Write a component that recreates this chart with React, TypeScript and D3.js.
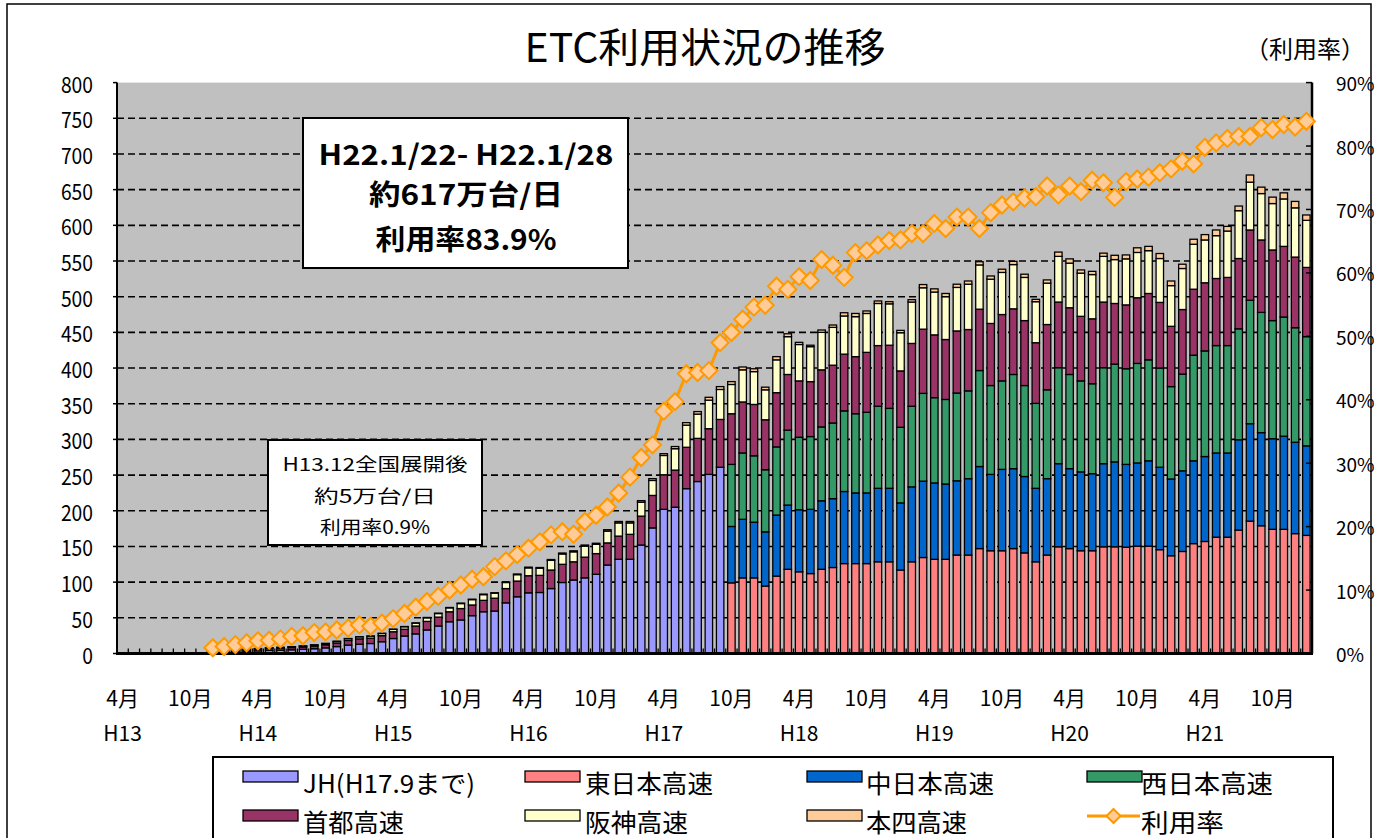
import * as d3 from "d3";

// fiscal years (Heisei) and months shown on the category axis
const fiscalYears = ["H13", "H14", "H15", "H16", "H17", "H18", "H19", "H20", "H21"];
const months = [4, 5, 6, 7, 8, 9, 10, 11, 12, 1, 2, 3];
const categories = fiscalYears
  .flatMap((fy) => months.map((m) => `${fy}.${m}`))
  .slice(0, 106); // H13.4 .. H21.1(=H22.1)
const firstData = "H13.12";
const splitData = "H17.10"; // JH split into 3 companies from here

// 万台/日, from H13.12 to H17.9
const jh = [2.5, 2.8, 3.1, 3.4, 3.7, 4.3, 4.6, 5.2, 5.8, 6.7, 7.9, 9.7, 11.8, 13, 14, 16.5, 21, 24.5, 27.5, 33, 38.5, 44.5, 47, 53, 58.5, 59.5, 71, 79.5, 85, 85.5, 91, 99.5, 103, 106, 111, 124, 132, 132, 152, 176, 202, 205, 231, 241, 251, 261];
// from H17.10 to H22.1
const east = [99, 106, 106, 94.5, 108.5, 118, 114.5, 112, 118, 120.5, 126, 126, 126, 128.5, 128.5, 117, 128.5, 134.5, 132, 132, 138, 138, 147, 144, 144, 147, 141, 128.5, 138, 149.5, 147, 144, 144, 149.5, 149.5, 149, 150.5, 150.5, 145.5, 137, 143, 154, 157, 163, 163, 173, 185.5, 179, 174, 174, 168, 165.5];
const central = [79, 82, 78, 76, 85.5, 90, 87, 90, 96, 96.5, 101, 99, 99, 103, 103, 94, 105, 107, 107, 105.5, 104, 107, 115, 107, 114, 112, 107, 103, 107, 116.5, 112, 110.5, 108, 116.5, 119, 116, 116.5, 119.5, 115.5, 107.5, 113, 116, 119, 118, 118, 126.5, 136.5, 130.5, 127, 130.5, 128, 125.5];
const west = [87, 93, 93, 87, 95.5, 105, 101.5, 102, 103.5, 106, 113, 111, 113, 115, 112, 106, 113, 123, 119.5, 118.5, 123, 123, 134.5, 124.5, 124, 132, 127.5, 119, 124.5, 134.5, 132, 127.5, 126, 134.5, 137, 134, 139.5, 141.5, 139, 129.5, 135.5, 148, 148, 150.5, 150.5, 155.5, 173, 168.5, 165.5, 167, 160.5, 153];
// from H13.12 to H22.1
const shuto = [2, 2.1, 2.2, 2.3, 2.4, 2.7, 2.8, 3.1, 3.4, 3.8, 4.3, 5.1, 6.5, 7.5, 7.5, 8.5, 9.5, 9.5, 11, 12, 12.5, 14, 16, 15, 16, 18, 20, 22, 24, 24, 26, 25.5, 25.5, 29, 29, 31, 32.5, 35, 40.5, 45.5, 48.5, 52, 58, 60.5, 64, 67,
  71, 71.5, 72, 70, 76, 78, 79, 77, 80, 81, 79.5, 80, 84, 85, 88.5, 79, 88, 90, 88, 84, 87, 86, 86, 87, 93, 92, 91, 85, 91.5, 92, 93.5, 90.5, 91, 92, 85, 89.5, 92, 93, 92, 84.5, 90.5, 92.5, 95.5, 94, 95.5, 98.5, 98.5, 101.5, 99, 99, 99, 97];
const hanshin = [0.5, 0.6, 0.7, 0.8, 0.9, 1.0, 1.1, 1.2, 1.3, 1.5, 1.8, 2.2, 2.5, 2.8, 2.8, 3, 3.3, 3.5, 4, 5, 5, 5.5, 7, 7.5, 8, 7, 8.5, 9, 11, 10, 13.5, 14.5, 14, 15.5, 13, 16.5, 18.5, 16, 19.5, 21, 27, 30, 31, 34, 40, 42,
  41, 45, 46, 42, 46, 53, 51, 49, 52.5, 53, 53.5, 56, 54.5, 59, 58, 53.5, 58, 58, 60, 60, 61, 63.5, 62, 62, 59, 62, 60.5, 57.5, 58, 64, 62.5, 60.5, 62, 64, 61.5, 64.5, 63.5, 60, 61.5, 57, 57.5, 63, 60, 60, 65, 67, 67, 65, 65, 66.5, 69, 66];
const honshi = [0, 0, 0, 0, 0, 0.1, 0.1, 0.1, 0.1, 0.1, 0.1, 0.1, 0.2, 0.2, 0.2, 0.3, 0.3, 0.3, 0.4, 0.5, 0.5, 0.5, 0.6, 0.6, 0.7, 0.7, 0.8, 0.9, 1, 1, 1.2, 1.3, 1.4, 1.5, 1.5, 2, 2, 2, 2.2, 2.5, 2.5, 3, 3.5, 3.5, 4, 4,
  4, 4, 4, 3.7, 4.5, 4, 3, 2, 3.3, 3.3, 4.5, 4.5, 3.5, 3.5, 3, 3.3, 3.3, 4.5, 4.5, 4.5, 4.5, 4.5, 4.5, 4.5, 4.5, 4.5, 4.5, 3.3, 4.5, 6, 6, 4.5, 4.5, 4.5, 6, 5.5, 6.5, 6, 7, 6.5, 6, 7, 7.5, 8, 6.5, 6.5, 10, 9, 9, 8.5, 9, 7.5];
// 利用率 (%)
const rate = [0.9, 1.1, 1.4, 1.7, 2.0, 2.1, 2.3, 2.7, 2.8, 3.3, 3.4, 3.7, 4.0, 4.5, 4.3, 4.8, 5.5, 6.3, 7.3, 8.2, 9.0, 10.0, 10.8, 11.7, 12.1, 13.7, 14.6, 15.6, 16.6, 17.6, 18.7, 19.2, 18.8, 20.8, 21.8, 23.1, 25.3, 27.8, 30.9, 32.9, 38.2, 39.7, 44.1, 44.3, 44.6, 49.0,
  50.6, 52.7, 54.6, 54.9, 57.9, 57.4, 59.4, 58.8, 62.1, 61.2, 59.3, 63.2, 63.5, 64.4, 65.1, 65.2, 66.2, 66.2, 67.8, 67.0, 68.8, 68.8, 67.0, 69.5, 70.7, 71.2, 71.8, 72.0, 73.7, 72.3, 73.7, 72.8, 74.6, 74.2, 71.9, 74.4, 74.8, 75.1, 75.8, 76.4, 77.6, 77.2, 79.8, 80.5, 81.2, 81.5, 81.5, 82.9, 82.6, 83.4, 83.0, 83.9];

const seriesNames = ["JH(H17.9まで)", "東日本高速", "中日本高速", "西日本高速", "首都高速", "阪神高速", "本四高速"];
const colors = ["#9999FF", "#FF8080", "#0066CC", "#339966", "#993366", "#FFFFCC", "#FFCC99"];
const yTicks = d3.range(0, 801, 50);
const y2Ticks = d3.range(0, 91, 10);

const FONT = "'Noto Sans CJK JP', sans-serif";
const W = 1377;
const H = 838;
const margin = { top: 82.6, right: 65, bottom: 184.5, left: 117 };

export default function App() {
  const x = d3
    .scaleBand()
    .domain(categories)
    .range([margin.left, W - margin.right])
    .paddingInner(0.34)
    .paddingOuter(0.17);
  const y = d3.scaleLinear().domain([0, 800]).range([H - margin.bottom, margin.top]);
  const y2 = d3.scaleLinear().domain([0, 90]).range([H - margin.bottom, margin.top]);
  const bw = x.bandwidth();
  const step = x.step();

  const i0 = categories.indexOf(firstData);
  const iSplit = categories.indexOf(splitData);

  // rows: one per data month, values in stacking order
  const rows = categories.slice(i0).map((cat, j) => {
    const k = i0 + j;
    const early = k < iSplit;
    const s = k - iSplit;
    return {
      cat,
      vals: [
        early ? jh[j] : 0,
        early ? 0 : east[s],
        early ? 0 : central[s],
        early ? 0 : west[s],
        shuto[j],
        hanshin[j],
        honshi[j],
      ],
      rate: rate[j],
    };
  });

  const stack = d3.stack().keys(d3.range(7).map(String)).value((d, key) => d.vals[+key]);
  const stacked = stack(rows);

  const cx = (cat) => x(cat) + bw / 2;
  const line = d3.line().x((d) => cx(d.cat)).y((d) => y2(d.rate));
  const diamond = (r) => `M0,${-r}L${r},0L0,${r}L${-r},0Z`;

  const x0 = margin.left;
  const x1 = W - margin.right;
  const yb = y(0);

  return (
    <svg width={W} height={H} style={{ position: "absolute", left: 0, top: 0, background: "#fff" }} fontFamily={FONT}>
      <rect x={7} y={4} width={1364} height={900} fill="#fff" stroke="#000" strokeWidth={1.5} />

      {/* title */}
      <text x={705} y={45} fontSize={40} textAnchor="middle" dominantBaseline="central" textLength={361} lengthAdjust="spacingAndGlyphs">ETC利用状況の推移</text>
      <text x={1305} y={47} fontSize={24} textAnchor="middle" dominantBaseline="central" textLength={120} lengthAdjust="spacingAndGlyphs">（利用率）</text>

      {/* plot background */}
      <rect x={x0} y={margin.top} width={x1 - x0} height={yb - margin.top} fill="#C0C0C0" />
      {yTicks.filter((v) => v > 0 && v < 800).map((v) => (
        <line key={v} x1={x0} x2={x1} y1={y(v)} y2={y(v)} stroke="#000" strokeWidth={1.6} strokeDasharray="7,4" />
      ))}

      {/* bars */}
      {stacked.map((layer, li) => (
        <g key={li} fill={colors[li]} stroke="#000" strokeWidth={1.3}>
          {layer.map((d, di) =>
            d[1] - d[0] > 0 ? (
              <rect key={di} x={x(d.data.cat)} y={y(d[1])} width={bw} height={y(d[0]) - y(d[1])} />
            ) : null
          )}
        </g>
      ))}

      {/* axes */}
      {categories.map((c, k) => (
        <line key={c} x1={x0 + k * step} x2={x0 + k * step} y1={yb} y2={yb - 5} stroke="#000" strokeWidth={1.3} />
      ))}
      <line x1={x0} x2={x0} y1={margin.top} y2={yb} stroke="#000" strokeWidth={2} />
      <line x1={x1} x2={x1} y1={margin.top} y2={yb} stroke="#000" strokeWidth={2.5} />
      <line x1={x0 - 1} x2={x1 + 1} y1={yb} y2={yb} stroke="#000" strokeWidth={3} />
      {yTicks.map((v) => (
        <line key={v} x1={x0 - 4} x2={x0} y1={y(v)} y2={y(v)} stroke="#000" strokeWidth={1.5} />
      ))}
      {y2Ticks.map((v) => (
        <line key={v} x1={x1 - 6} x2={x1} y1={y2(v)} y2={y2(v)} stroke="#000" strokeWidth={1.5} />
      ))}

      {yTicks.map((v) => (
        <text key={v} x={93} y={y(v)} fontSize={22} textAnchor="end" dominantBaseline="central" textLength={String(v).length * 10.7} lengthAdjust="spacingAndGlyphs">{v}</text>
      ))}
      {y2Ticks.map((v) => (
        <text key={v} x={1336} y={y2(v)} fontSize={19} textAnchor="start" dominantBaseline="central">{v}%</text>
      ))}

      {categories.map((c) => {
        const [fy, m] = c.split(".");
        if (m !== "4" && m !== "10") return null;
        return (
          <g key={c}>
            <text x={cx(c)} y={697} fontSize={21} textAnchor="middle" dominantBaseline="central">{m}月</text>
            {m === "4" ? (
              <text x={cx(c)} y={732} fontSize={21} textAnchor="middle" dominantBaseline="central">{fy}</text>
            ) : null}
          </g>
        );
      })}

      {/* rate line */}
      <path d={line(rows)} fill="none" stroke="#FF9900" strokeWidth={3} />
      {rows.map((d) => (
        <path key={d.cat} d={diamond(8.5)} transform={`translate(${cx(d.cat)},${y2(d.rate)})`} fill="#FFCC99" stroke="#FF9900" strokeWidth={2} />
      ))}

      {/* annotation boxes */}
      <g>
        <rect x={303} y={118} width={325} height={150} fill="#fff" stroke="#000" strokeWidth={2} />
        <text x={466} y={153} fontSize={28} fontWeight="bold" textAnchor="middle" dominantBaseline="central" textLength={295} lengthAdjust="spacingAndGlyphs">H22.1/22- H22.1/28</text>
        <text x={466} y={193} fontSize={28} fontWeight="bold" textAnchor="middle" dominantBaseline="central" textLength={194} lengthAdjust="spacingAndGlyphs">約617万台/日</text>
        <text x={466} y={238} fontSize={28} fontWeight="bold" textAnchor="middle" dominantBaseline="central" textLength={181} lengthAdjust="spacingAndGlyphs">利用率83.9%</text>
      </g>
      <g>
        <rect x={268} y={440} width={214} height={105} fill="#fff" stroke="#000" strokeWidth={2} />
        <text x={375} y={463} fontSize={18} textAnchor="middle" dominantBaseline="central" textLength={185} lengthAdjust="spacingAndGlyphs">H13.12全国展開後</text>
        <text x={375} y={495} fontSize={18} textAnchor="middle" dominantBaseline="central" textLength={122} lengthAdjust="spacingAndGlyphs">約5万台/日</text>
        <text x={375} y={526} fontSize={18} textAnchor="middle" dominantBaseline="central" textLength={110} lengthAdjust="spacingAndGlyphs">利用率0.9%</text>
      </g>

      {/* legend */}
      <rect x={213} y={757} width={1120} height={100} fill="#fff" stroke="#000" strokeWidth={2} />
      {[...seriesNames, "利用率"].map((name, i) => {
        const col = i % 4;
        const row = Math.floor(i / 4);
        const sx = [243, 525, 807, 1087][col];
        const tx = [303, 585, 866, 1141][col];
        const sy = [771, 810][row];
        const ty = [782, 821][row];
        const tl = [172, 128, 128, 132, 101, 103, 101, 83][i];
        return (
          <g key={name}>
            {i < 7 ? (
              <rect x={sx} y={sy} width={55} height={11} fill={colors[i]} stroke="#000" strokeWidth={1.3} />
            ) : (
              <g>
                <line x1={sx} x2={sx + 53} y1={sy + 6} y2={sy + 6} stroke="#FF9900" strokeWidth={3} />
                <path d={diamond(7)} transform={`translate(${sx + 26.5},${sy + 6})`} fill="#FFCC99" stroke="#FF9900" strokeWidth={2} />
              </g>
            )}
            <text x={tx} y={ty} fontSize={25} dominantBaseline="central" textLength={tl} lengthAdjust="spacingAndGlyphs">{name}</text>
          </g>
        );
      })}
    </svg>
  );
}
